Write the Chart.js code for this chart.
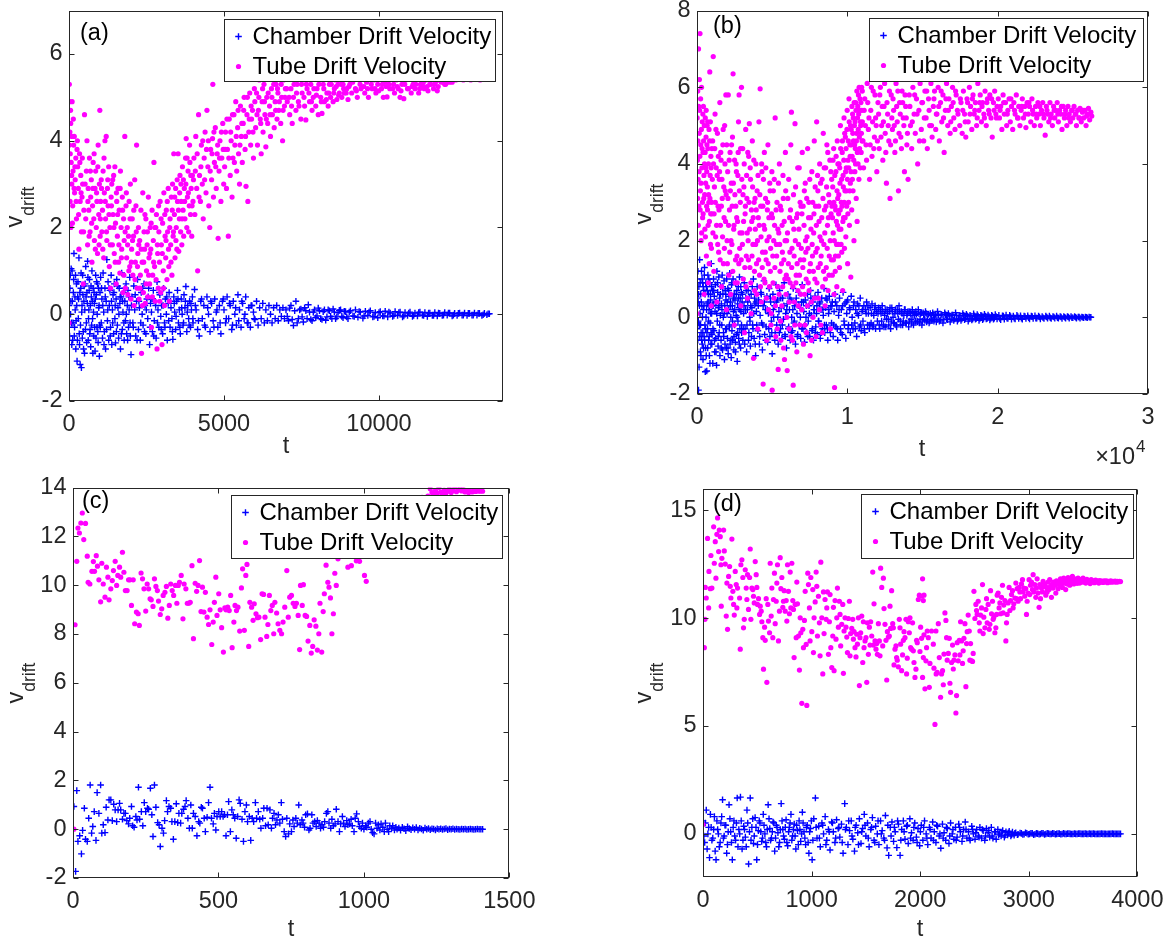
<!DOCTYPE html>
<html><head><meta charset="utf-8">
<script src="https://cdn.jsdelivr.net/npm/chart.js@4.4.1/dist/chart.umd.min.js"></script>
<style>
html,body{margin:0;padding:0;background:#fff;width:1171px;height:945px;overflow:hidden;position:relative}
canvas{position:absolute}
</style></head><body>
<script>
// ---------------- DATA ----------------
const legendLabels = ['Chamber Drift Velocity', 'Tube Drift Velocity'];
const panelTags = ['(a)', '(b)', '(c)', '(d)'];
const axisTitleX = 't';
const axisTitleY = 'v';
const axisTitleYSub = 'drift';
const xExponentB = '\u00D710';
const xExponentBPow = '4';

const xTicksA = [0, 5000, 10000];
const yTicksA = [-2, 0, 2, 4, 6];
const xTicksB = [0, 10000, 20000, 30000];
const yTicksB = [-2, 0, 2, 4, 6, 8];
const xTicksC = [0, 500, 1000, 1500];
const yTicksC = [-2, 0, 2, 4, 6, 8, 10, 12, 14];
const xTicksD = [0, 1000, 2000, 3000, 4000];
const yTicksD = [0, 5, 10, 15];

// (a) chamber drift velocity [t, v]
const aChamber = [
[0,0.2],[20,-0.5],[40,0.9],[60,0.3],[80,-0.2],[100,1.0],[120,-0.6],[140,0.5],[160,1.4],[180,-0.3],[200,0.1],[220,-0.8],[240,0.7],[260,-1.08],[280,0.4],[300,-0.1],[320,1.3],[340,-0.7],[360,-1.16],[380,0.6],[400,-1.23],[420,0.2],[440,0.9],[460,-0.4],[480,0.3],[500,-0.9],[520,0.7],[540,1.1],[560,-0.2],[580,0.5],[600,1.22],[620,-0.6],[640,0.1],[660,0.8],[680,-0.35],[700,-0.75],[720,0.4],[740,1.0],[760,-0.1],[780,0.6],[800,-0.5],[820,0.25],[840,-0.85],[860,0.9],[880,0.45],[900,-0.3],[920,0.7],[940,-0.65],[960,0.15],[980,-0.97],
[1000,0.5],[1020,0.85],[1040,-0.2],[1060,0.35],[1080,-0.55],[1100,0.95],[1120,0.05],[1140,-0.4],[1160,0.6],[1180,-0.8],[1200,0.3],[1220,1.26],[1240,-0.15],[1260,0.75],[1280,-0.6],[1300,0.2],[1320,0.55],[1340,-0.3],[1360,0.9],[1380,-0.7],[1400,0.1],[1420,0.45],[1440,-0.45],[1460,0.7],[1480,-0.1],[1500,-0.66],[1520,0.35],[1540,0.8],[1560,-0.25],[1580,0.15],[1600,-0.55],[1620,0.6],[1640,0.25],[1660,-0.8],[1680,0.4],[1700,0.95],[1720,-0.35],[1740,0.05],[1760,0.5],[1780,-0.6],[1800,0.3],[1820,-0.15],[1840,0.7],[1860,-0.45],[1880,0.2],[1900,0.55],[1920,-0.3],[1940,0.1],[1960,0.85],[1980,-0.5],
[2000,-0.93],[2030,0.4],[2060,-0.2],[2090,0.65],[2120,0.1],[2150,-0.5],[2180,0.3],[2210,0.8],[2240,-0.35],[2270,0.15],[2300,-0.6],[2330,0.5],[2360,0.0],[2390,-0.25],[2420,0.7],[2450,0.2],[2480,-0.45],[2510,0.35],[2540,-0.1],[2570,0.6],[2600,-0.7],[2630,0.25],[2660,0.05],[2690,-0.4],[2720,0.55],[2750,-0.15],[2780,0.3],[2810,-0.55],[2840,0.75],[2870,0.1],[2900,-0.3],[2930,0.45],[2960,-0.05],[2990,0.2],
[3020,-0.45],[3050,0.6],[3080,-0.2],[3110,0.35],[3140,0.0],[3170,-0.6],[3200,0.25],[3230,0.5],[3260,-0.3],[3290,0.15],[3320,-0.1],[3350,-0.58],[3380,0.4],[3410,0.05],[3440,-0.35],[3470,0.3],[3500,0.55],[3530,-0.2],[3560,0.1],[3590,-0.45],[3620,0.35],[3650,0.0],[3680,-0.25],[3710,0.45],[3740,0.15],[3770,0.64],[3800,-0.4],[3830,0.2],[3860,-0.1],[3890,0.3],[3920,-0.3],[3950,0.1],[3980,0.4],
[4000,-0.2],[4050,0.57],[4100,0.1],[4150,-0.35],[4200,-0.5],[4250,0.3],[4300,-0.1],[4350,0.2],[4400,-0.3],[4450,0.4],[4500,0.0],[4550,-0.4],[4600,0.25],[4650,-0.15],[4700,0.35],[4750,0.05],[4800,-0.3],[4850,0.2],[4900,-0.45],[4950,0.3],[5000,0.1],[5050,-0.2],[5100,0.4],[5150,-0.1],[5200,0.2],[5250,-0.35],[5300,0.3],[5350,0.0],[5400,-0.25],[5450,0.45],[5500,0.1],[5550,-0.3],[5600,0.25],[5650,-0.1],[5700,0.4],[5750,-0.2],[5800,0.15],[5850,-0.3],[5900,0.2],[5950,0.05],
[6000,-0.12],[6050,0.3],[6100,-0.25],[6150,0.15],[6200,-0.1],[6250,0.25],[6300,-0.2],[6350,0.1],[6400,-0.15],[6450,0.2],[6500,0.0],[6550,-0.2],[6600,0.15],[6650,-0.1],[6700,0.2],[6750,-0.15],[6800,0.1],[6850,-0.05],[6900,0.15],[6950,-0.1],
[7000,0.1],[7080,-0.15],[7160,0.2],[7240,-0.26],[7320,0.3],[7400,-0.1],[7480,0.12],[7560,-0.18],[7640,0.08],[7720,0.22],[7800,-0.12],[7880,0.05],[7960,-0.08],[8040,0.14],[8120,-0.1],[8200,0.06],[8280,-0.14],[8360,0.1],[8440,-0.05],[8520,0.12],[8600,-0.1],[8680,0.04],[8760,0.1],[8840,-0.08],[8920,0.06],[9000,-0.1],[9080,0.08],[9160,-0.04],[9240,0.1],[9320,-0.07],[9400,0.05],[9480,-0.09],[9560,0.07],[9640,-0.03],[9720,0.08],[9800,-0.06],[9880,0.04],[9960,-0.08],
[10040,0.06],[10120,-0.04],[10200,0.07],[10280,-0.06],[10360,0.03],[10440,-0.05],[10520,0.06],[10600,-0.03],[10680,0.05],[10760,-0.06],[10840,0.04],[10920,-0.03],[11000,0.05],[11080,-0.05],[11160,0.03],[11240,-0.04],[11320,0.05],[11400,-0.02],[11480,0.04],[11560,-0.05],[11640,0.03],[11720,-0.03],[11800,0.04],[11880,-0.04],[11960,0.02],[12040,-0.03],[12120,0.04],[12200,-0.02],[12280,0.03],[12360,-0.04],[12440,0.02],[12520,-0.03],[12600,0.03],[12680,-0.02],[12760,0.03],[12840,-0.03],[12920,0.02],[13000,-0.02],[13080,0.03],[13160,-0.02],[13240,0.02],[13320,-0.03],[13400,0.02],[13480,-0.01],[13560,0.01],
[10,-0.3],[30,0.6],[50,0.0],[70,1.05],[90,-0.7],[110,0.3],[130,-0.2],[150,0.8],[170,-0.5],[190,0.4],[210,0.9],[230,-0.15],[250,0.2],[270,-0.6],[290,0.75],[310,0.35],[330,-0.45],[350,0.5],[370,-0.25],[390,0.95],[410,0.05],[430,-0.55],[450,0.45],[470,-0.8],[490,0.65],[510,0.1],[530,-0.35],[550,0.4],[570,-0.65],[590,0.25],[610,0.85],[630,-0.1],[650,0.55],[670,-0.45],[690,0.2],[710,0.65],[730,-0.25],[750,0.3],[770,-0.9],[790,0.05],[810,0.5],[830,-0.3],[850,0.35],[870,-0.55],[890,0.75],[910,0.0],[930,-0.4],[950,0.6],[970,0.2],[990,-0.25],
[1010,-0.3],[1050,0.6],[1090,0.2],[1130,-0.7],[1170,0.4],[1210,-0.35],[1250,0.1],[1290,0.6],[1330,-0.5],[1370,0.3],[1410,-0.2],[1450,0.5],[1490,0.2],[1530,-0.4],[1570,0.65],[1610,0.0],[1650,0.4],[1690,-0.45],[1730,0.3],[1770,-0.2],[1810,0.6],[1850,0.0],[1890,-0.6],[1930,0.4],[1970,-0.2],
[2015,0.2],[2075,-0.3],[2135,0.45],[2195,-0.6],[2255,0.3],[2315,-0.2],[2375,0.6],[2435,-0.4],[2495,0.1],[2555,0.4],[2615,-0.3],[2675,0.35],[2735,-0.5],[2795,0.2],[2855,-0.2],[2915,0.5],[2975,-0.35],[3035,0.2],[3095,-0.3],[3155,0.4],[3215,-0.15],[3275,0.3],[3335,-0.4],[3395,0.25],[3455,-0.05],[3515,0.35],[3575,-0.3],[3635,0.15],[3695,-0.2],[3755,0.3],[3815,0.05],[3875,-0.25],[3935,0.25],[3995,-0.1],
[4075,0.2],[4175,-0.15],[4275,0.35],[4375,-0.25],[4475,0.15],[4575,0.3],[4675,-0.3],[4775,0.1],[4875,-0.2],[4975,0.35],[5075,-0.1],[5175,0.25],[5275,-0.25],[5375,0.15],[5475,-0.15],[5575,0.3],[5675,0.0],[5775,-0.2],[5875,0.2],[5975,-0.1],
[7040,-0.05],[7120,0.14],[7200,-0.12],[7280,0.08],[7360,-0.2],[7440,0.1],[7520,-0.06],[7600,0.15],[7680,-0.1],[7760,0.05],[7840,-0.15],[7920,0.1],[8000,-0.04],[8080,0.08],[8160,-0.12],[8240,0.1],[8320,-0.06],[8400,0.08],[8480,-0.1],[8560,0.05],[8640,-0.06],[8720,0.09],[8800,-0.05],[8880,0.07],[8960,-0.06],[9040,0.05],[9200,-0.05],[9360,0.06],[9520,-0.04],[9680,0.05],[9840,-0.05],[10000,0.04],[10160,-0.04],[10320,0.05],[10480,-0.03],[10640,0.04],[10800,-0.04],[10960,0.03],[11120,-0.03],[11280,0.04],[11440,-0.03],[11600,0.03],[11760,-0.03],[11920,0.03],[12080,-0.02],[12240,0.03],[12400,-0.02],[12560,0.02],[12720,-0.02],[12880,0.02],[13040,-0.02],[13200,0.02],[13360,-0.01],[13520,0.01]
];

// (a) tube drift velocity [t, v]
const aTube = [
[0,-0.2],[10,5.3],[20,4.9],[30,4.2],[40,3.7],[50,4.7],[60,2.0],[70,3.5],[80,4.1],[90,3.0],[100,4.9],[120,2.5],[130,3.3],[150,3.9],[170,4.1],[180,2.8],[200,3.1],[220,3.6],[240,2.2],[260,3.8],[280,3.4],[300,2.9],[320,1.5],[340,3.7],[360,2.6],[380,3.2],[400,1.9],[420,2.7],[440,3.0],[460,0.7],[480,2.4],[500,4.6],
[540,2.2],[560,3.3],[580,4.0],[600,1.6],[620,2.9],[640,2.4],[660,3.6],[680,1.9],[700,2.7],[720,3.1],[740,1.2],[760,2.5],[780,3.5],[800,2.2],[820,1.7],[840,2.9],[860,3.3],[880,2.0],[900,2.6],[920,1.4],[940,3.9],[960,2.3],[980,3.0],[995,4.7],[1005,1.8],
[1020,2.6],[1040,3.1],[1060,1.9],[1080,2.4],[1100,3.3],[1120,1.3],[1140,2.8],[1160,4.0],[1180,2.2],[1200,4.1],[1220,1.7],[1240,2.9],[1260,2.5],[1280,3.4],[1300,1.1],[1320,2.0],[1340,0.6],[1360,2.7],[1380,3.0],[1400,1.6],[1420,2.3],[1440,3.2],[1460,1.4],[1480,3.4],[1500,2.1],[1520,0.7],[1540,2.6],[1560,1.8],[1580,2.9],[1600,1.2],[1620,2.4],[1640,0.95],[1660,3.3],[1680,2.0],[1700,1.5],[1720,2.7],[1740,0.5],[1760,2.2],[1780,1.7],[1800,4.1],[1820,0.6],[1840,2.5],[1860,1.3],[1880,2.0],[1900,0.45],[1920,1.8],[1940,2.6],[1960,1.1],[1980,3.0],[2000,0.35],
[2020,1.5],[2040,2.2],[2060,0.9],[2080,1.8],[2100,0.2],[2120,3.1],[2140,1.2],[2160,2.5],[2180,3.9],[2200,0.6],[2220,1.4],[2240,2.0],[2260,0.35],[2280,1.7],[2300,0.9],[2320,2.4],[2340,-0.9],[2360,1.2],[2380,2.8],[2400,0.5],[2420,1.9],[2440,1.5],[2460,0.25],[2480,2.2],[2500,1.0],[2520,1.6],[2540,0.4],[2560,2.7],[2580,1.3],[2600,0.7],[2620,2.0],[2640,1.5],[2660,-0.3],[2680,2.4],[2700,0.9],[2720,1.7],[2740,3.5],[2760,1.1],[2780,0.3],[2800,2.0],[2820,2.3],[2840,-0.8],[2860,1.4],[2880,0.6],[2900,1.9],[2920,1.2],[2940,2.6],[2960,0.5],[2980,1.6],[3000,-0.7],[3020,2.1],[3040,1.0],[3060,2.8],[3080,0.2],[3100,1.8],
[3120,1.3],[3140,2.4],[3160,0.8],[3180,1.9],[3200,2.9],[3220,1.1],[3240,0.3],[3260,2.2],[3280,1.6],[3300,2.7],[3320,0.9],[3340,3.0],[3360,1.8],[3380,3.7],[3400,2.3],[3420,1.3],[3440,2.9],[3460,2.0],[3480,1.5],[3500,2.6],[3520,3.7],[3540,1.45],[3560,2.2],[3580,3.2],[3600,1.9],[3620,2.6],[3640,1.6],[3660,3.4],[3680,2.4],[3700,1.8],[3720,2.9],[3740,2.2],[3760,3.6],[3780,4.05],[3800,2.0],[3820,2.7],[3840,3.3],[3860,1.9],[3880,2.5],[3900,3.5],[3920,2.3],[3940,2.9],[3960,1.8],[3980,3.2],[4000,2.6],
[4030,3.6],[4060,2.3],[4090,4.1],[4120,2.9],[4150,1.0],[4180,4.6],[4210,3.2],[4240,2.6],[4270,3.9],[4300,3.0],[4330,2.2],[4360,3.6],[4390,4.2],[4420,2.8],[4450,4.7],[4480,3.4],[4510,2.5],[4540,2.0],[4570,3.8],[4600,3.1],[4630,4.05],[4640,5.3],[4660,2.7],[4690,3.5],[4720,4.3],[4750,2.9],[4780,3.7],[4810,1.75],[4840,3.3],[4870,4.0],[4900,2.6],[4930,3.6],[4960,4.4],[4990,3.0],
[5020,3.4],[5050,4.2],[5080,2.9],[5110,3.8],[5140,1.8],[5170,4.5],[5200,3.2],[5230,4.0],[5260,2.7],[5290,3.6],[5320,4.6],[5350,3.9],[5380,4.9],[5410,3.3],[5440,4.3],[5470,3.7],[5500,3.0],[5530,4.8],[5560,4.1],[5590,3.5],[5620,4.4],[5650,5.0],[5680,3.8],[5710,2.95],[5740,4.6],[5770,2.6],[5800,4.2],[5830,5.1],[5860,3.9],[5890,4.5],[5920,4.7],[5950,3.6],[5980,5.2],
[6020,4.3],[6050,5.1],[6080,3.9],[6110,4.7],[6140,5.4],[6170,4.5],[6200,3.7],[6230,4.9],[6260,4.2],[6290,5.3],[6320,4.6],[6350,3.86],[6380,5.0],[6410,4.4],[6440,5.6],[6470,4.8],[6500,4.1],[6530,5.2],[6560,4.6],[6590,5.5],[6620,4.3],[6650,4.9],[6680,5.3],[6710,4.5],[6740,5.1],[6770,4.7],[6800,5.7],[6830,4.4],[6860,5.0],[6890,4.0],[6920,5.4],[6950,4.8],[6980,5.2],
[7040,4.9],[7080,5.5],[7120,4.6],[7160,5.2],[7200,4.4],[7240,5.0],[7280,5.8],[7320,4.7],[7360,5.3],[7400,4.9],[7440,5.6],[7480,4.5],[7520,5.1],[7560,5.4],[7600,4.8],[7640,4.48],[7680,5.2],[7720,5.7],[7760,4.9],[7800,5.3],[7840,4.7],[7880,5.0],[7920,5.5],[7960,4.8],[8000,5.2],[8040,4.6],[8080,5.4],[8120,5.0],[8160,4.63],[8200,5.3],[8240,4.9],[8280,5.6],[8320,5.1],[8360,4.8],[8400,5.3],[8440,5.0],[8480,5.5],[8520,4.9],[8560,5.2],[8600,5.4],[8640,4.95],[8680,5.3],[8720,5.1],[8760,5.6],[8800,5.0],[8840,5.3],[8880,5.1],[8920,5.5],[8960,5.2],[9000,4.95],
[9060,5.3],[9120,5.1],[9180,5.5],[9240,5.2],[9300,5.0],[9360,5.4],[9420,5.2],[9480,5.6],[9540,5.1],[9600,5.35],[9660,5.0],[9720,5.5],[9780,5.2],[9840,5.4],[9900,5.1],[9960,5.3],[10020,5.6],[10080,5.2],[10140,5.0],[10200,5.35],[10260,5.01],[10320,5.3],[10380,5.5],[10440,5.2],[10500,5.1],[10560,5.4],[10620,5.2],[10680,5.0],[10740,5.3],[10800,4.97],[10860,5.4],[10920,5.2],[10980,5.5],[11040,5.1],[11100,5.3],[11160,5.2],[11220,5.45],[11280,5.1],[11340,5.3],[11400,5.28],[11460,5.2],[11520,5.4],[11580,5.15],[11640,5.3],[11700,5.5],[11760,5.2],[11820,5.35],[11880,5.15],[11940,5.4],[12000,5.36],[12060,5.5],[12120,5.3],[12180,5.6],[12240,5.4],[12300,5.5],[12360,5.35],[12420,5.6],[12480,5.4],[12540,5.5],[12600,5.45],[12660,5.6],[12720,5.4],[12780,5.5],[12840,5.45],[12900,5.55],[12960,5.4],[13020,5.5],[13080,5.45],[13140,5.6],[13200,5.5],[13260,5.4],[13320,5.5],[13380,5.45],[13440,5.5],[13500,5.45],
[15,3.9],[35,2.6],[55,4.4],[85,3.2],[110,2.1],[140,4.5],[165,2.9],[190,3.4],[230,2.6],[270,4.0],[310,2.3],[350,3.5],[390,2.8],[430,3.6],[470,1.9],[520,3.0],[610,2.6],[650,1.8],[690,3.3],[730,2.1],[770,2.9],[810,3.7],[850,1.5],[890,2.8],[930,3.4],[970,1.6],
[1010,2.2],[1050,2.9],[1090,1.5],[1130,3.6],[1170,2.6],[1210,1.9],[1250,3.1],[1290,2.3],[1330,1.6],[1370,2.5],[1410,3.1],[1450,2.0],[1490,1.2],[1530,2.8],[1570,2.3],[1610,1.6],[1650,2.9],[1690,1.3],[1730,2.4],[1770,0.9],[1810,1.9],[1850,2.8],[1890,1.6],[1930,1.0],[1970,2.2],
[2010,1.2],[2050,1.7],[2090,2.4],[2130,0.8],[2170,1.9],[2210,1.1],[2250,1.6],[2290,0.6],[2330,1.5],[2370,0.2],[2410,1.2],[2450,2.3],[2490,0.7],[2530,1.9],[2570,0.9],[2610,1.4],[2650,2.1],[2690,0.4],[2730,1.2],[2770,2.0],[2810,0.8],[2850,1.6],[2890,2.5],[2930,0.3],[2970,2.2],
[3010,1.4],[3050,0.6],[3090,2.3],[3130,1.7],[3170,2.6],[3210,1.5],[3250,2.0],[3290,1.2],[3330,2.4],[3370,1.9],[3410,2.7],[3450,1.7],[3490,3.1],[3530,2.4],[3570,2.8],[3610,3.0],[3650,2.2],[3690,3.1],[3730,2.6],[3770,3.0],[3810,3.6],[3850,2.8],[3890,3.9],[3930,3.2],[3970,2.5],
[4015,3.1],[4075,3.3],[4135,3.7],[4195,2.7],[4255,3.4],[4315,4.0],[4375,3.1],[4435,3.8],[4495,4.0],[4555,3.3],[4615,3.7],[4675,4.2],[4735,3.4],[4795,3.9],[4855,3.6],[4915,4.2],[4975,3.8],[5035,3.8],[5095,4.5],[5155,3.6],[5215,4.2],[5275,4.6],[5335,3.5],[5395,4.1],[5455,4.7],[5515,3.9],[5575,4.4],[5635,4.7],[5695,4.1],[5755,5.0],[5815,4.5],[5875,4.8],[5935,4.2],[5995,4.9],[6065,4.6],[6125,5.0],[6185,4.4],[6245,5.2],[6305,4.9],[6365,4.5],[6425,5.1],[6485,4.6],[6545,5.0],[6605,5.3],[6665,4.7],[6725,5.2],[6785,4.9],[6845,5.3],[6905,4.7],[6965,5.0],
[7020,5.2],[7100,5.0],[7180,4.8],[7260,5.3],[7340,5.1],[7420,4.8],[7500,5.3],[7580,5.0],[7660,5.3],[7740,5.1],[7820,4.9],[7900,5.2],[7980,5.05],[8060,5.3],[8140,4.9],[8220,5.2],[8300,4.95],[8380,5.1],[8460,5.3],[8540,5.1],[8620,5.25],[8700,5.05],[8780,5.3],[8860,5.2],[8940,5.1],[9030,5.25],[9150,5.35],[9270,5.15],[9390,5.3],[9510,5.25],[9630,5.2],[9750,5.3],[9870,5.2],[9990,5.15],[10110,5.3],[10230,5.25],[10350,5.2],[10470,5.3],[10590,5.25],[10710,5.15],[10830,5.3],[10950,5.2],[11070,5.25],[11190,5.3],[11310,5.2],[11430,5.35],[11550,5.25],[11670,5.3],[11790,5.3],[11910,5.25],[12030,5.35],[12150,5.3],[12270,5.35]
];

// (b) chamber drift velocity [t, v]
const bChamber = [
[0,-0.3],[25,1.0],[50,-0.6],[75,0.4],[100,-1.9],[125,0.8],[150,-0.2],[175,1.5],[200,0.1],[225,-0.9],[250,0.6],[275,-0.4],[300,1.2],[325,0.3],[350,-0.7],[375,0.9],[400,-1.1],[425,0.2],[450,0.7],[475,-0.5],[500,1.3],[525,-0.2],[550,-1.42],[575,-0.8],[600,0.0],[625,0.8],[650,-1.4],[675,0.35],[700,-0.3],[725,1.1],[750,0.6],[775,-0.6],[800,0.2],[825,-1.0],[850,0.9],[875,-0.15],[900,0.45],[925,-0.7],[950,1.4],[975,0.1],
[1000,-0.45],[1025,0.7],[1050,-1.2],[1075,0.3],[1100,1.0],[1125,-0.35],[1150,0.55],[1175,-0.9],[1200,0.15],[1225,0.85],[1250,-0.55],[1275,0.4],[1300,-1.25],[1325,1.2],[1350,-0.1],[1375,0.65],[1400,-0.75],[1425,0.25],[1450,1.05],[1475,-0.4],[1500,0.5],[1525,-1.0],[1550,0.05],[1575,0.8],[1600,-0.6],[1625,0.35],[1650,-0.2],[1675,1.1],[1700,-0.85],[1725,0.6],[1750,0.0],[1775,-0.5],[1800,0.95],[1825,-1.1],[1850,0.3],[1875,0.7],[1900,-0.3],[1925,0.45],[1950,-0.8],[1975,1.0],
[2000,0.1],[2025,-0.55],[2050,0.75],[2075,-0.95],[2100,0.2],[2125,0.55],[2150,-0.25],[2175,1.15],[2200,-0.7],[2225,0.4],[2250,0.0],[2275,-1.05],[2300,0.85],[2325,-0.35],[2350,0.3],[2375,-0.6],[2400,1.0],[2425,0.15],[2450,-0.85],[2475,0.6],[2500,-0.2],[2525,0.45],[2550,-0.65],[2575,0.9],[2600,0.05],[2625,-0.45],[2650,0.7],[2675,-1.15],[2700,0.35],[2725,-0.1],[2750,0.8],[2775,-0.55],[2800,0.25],[2825,1.05],[2850,-0.3],[2875,0.5],[2900,-0.8],[2925,0.15],[2950,0.65],[2975,-0.4],
[3000,0.4],[3050,-0.6],[3100,0.1],[3150,0.9],[3200,-0.3],[3250,0.5],[3300,-0.9],[3350,0.2],[3400,0.7],[3450,-0.4],[3500,0.0],[3550,-0.75],[3600,0.6],[3650,0.25],[3700,-0.2],[3750,1.0],[3800,-0.55],[3850,0.35],[3900,-1.0],[3950,0.15],[4000,0.8],[4050,-0.35],[4100,0.45],[4150,-0.7],[4200,0.05],[4250,0.65],[4300,-0.15],[4350,-0.85],[4400,0.3],[4450,0.95],[4500,-0.45],[4550,0.2],[4600,-0.25],[4650,0.55],[4700,-0.65],[4750,0.1],[4800,0.75],[4850,-0.5],[4900,0.4],[4950,-0.1],
[5000,-0.95],[5050,0.6],[5100,0.0],[5150,0.3],[5200,-0.4],[5250,0.85],[5300,-0.2],[5350,0.45],[5400,-0.7],[5450,0.15],[5500,0.7],[5550,-0.3],[5600,0.25],[5650,-0.55],[5700,0.5],[5750,-0.05],[5800,0.9],[5850,-0.45],[5900,0.1],[5950,-0.8],[6000,0.35],[6050,0.6],[6100,-0.25],[6150,0.2],[6200,-0.6],[6250,0.45],[6300,0.0],[6350,-0.35],[6400,0.75],[6450,-0.15],[6500,0.3],[6550,-0.7],[6600,0.5],[6650,0.1],[6700,-0.45],[6750,0.65],[6800,-0.2],[6850,0.25],[6900,-0.55],[6950,0.4],
[7000,0.85],[7050,-0.3],[7100,0.15],[7150,-0.65],[7200,0.45],[7250,0.0],[7300,-0.4],[7350,0.6],[7400,-0.1],[7450,0.3],[7500,-0.5],[7550,0.7],[7600,0.05],[7650,-0.35],[7700,0.4],[7750,-0.6],[7800,0.2],[7850,0.55],[7900,-0.25],[7950,0.1],[8000,-0.45],[8050,0.65],[8100,-0.1],[8150,0.35],[8200,-0.55],[8250,0.2],[8300,0.5],[8350,-0.3],[8400,0.05],[8450,0.75],[8500,-0.4],[8550,0.25],[8600,-0.2],[8650,0.45],[8700,-0.6],[8750,0.1],[8800,0.55],[8850,-0.3],[8900,0.3],[8950,-0.15],
[9000,0.4],[9060,-0.5],[9120,0.15],[9180,0.6],[9240,-0.25],[9300,0.3],[9360,-0.6],[9420,0.05],[9480,0.5],[9540,-0.3],[9600,0.2],[9660,-0.45],[9720,0.65],[9780,-0.1],[9840,0.35],[9900,-0.55],[9960,0.1],[10020,0.45],[10080,-0.2],[10140,0.25],[10200,-0.4],[10260,0.55],[10320,0.0],[10380,-0.3],[10440,0.4],[10500,-0.15],[10560,0.2],[10620,-0.5],[10680,0.35],[10740,0.05],[10800,-0.25],[10860,0.5],[10920,-0.35],[10980,0.15],[11040,-0.1],[11100,0.3],[11160,-0.4],[11220,0.2],[11280,0.4],[11340,-0.2],[11400,0.1],[11460,-0.3],[11520,0.25],[11580,-0.15],[11640,0.35],[11700,-0.25],[11760,0.05],[11820,0.2],[11880,-0.3],[11940,0.15],
[12000,-0.1],[12080,0.25],[12160,-0.3],[12240,0.1],[12320,0.3],[12400,-0.2],[12480,0.05],[12560,-0.25],[12640,0.2],[12720,-0.05],[12800,0.15],[12880,-0.3],[12960,0.25],[13040,0.0],[13120,-0.15],[13200,0.2],[13280,-0.25],[13360,0.1],[13440,0.3],[13520,-0.1],[13600,0.15],[13680,-0.2],[13760,0.05],[13840,0.2],[13920,-0.15],[14000,0.1],[14080,-0.25],[14160,0.15],[14240,-0.05],[14320,0.2],[14400,-0.2],[14480,0.05],[14560,0.15],[14640,-0.1],[14720,0.2],[14800,-0.15],[14880,0.1],[14960,-0.2],[15040,0.12],[15120,-0.05],[15200,0.15],[15280,-0.12],[15360,0.08],[15440,-0.15],[15520,0.1],[15600,-0.05],[15680,0.12],[15760,-0.1],[15840,0.05],[15920,-0.12],
[16000,0.15],[16120,-0.1],[16240,0.08],[16360,-0.15],[16480,0.12],[16600,-0.05],[16720,0.1],[16840,-0.12],[16960,0.06],[17080,-0.08],[17200,0.12],[17320,-0.1],[17440,0.05],[17560,-0.08],[17680,0.1],[17800,-0.06],[17920,0.08],[18040,-0.1],[18160,0.05],[18280,-0.07],[18400,0.09],[18520,-0.05],[18640,0.07],[18760,-0.08],[18880,0.05],[19000,-0.06],[19120,0.08],[19240,-0.04],[19360,0.06],[19480,-0.07],[19600,0.05],[19720,-0.05],[19840,0.07],[19960,-0.04],
[20080,0.05],[20200,-0.06],[20320,0.04],[20440,-0.05],[20560,0.06],[20680,-0.03],[20800,0.05],[20920,-0.05],[21040,0.03],[21160,-0.04],[21280,0.05],[21400,-0.03],[21520,0.04],[21640,-0.05],[21760,0.03],[21880,-0.03],[22000,0.04],[22120,-0.04],[22240,0.03],[22360,-0.03],[22480,0.04],[22600,-0.02],[22720,0.03],[22840,-0.04],[22960,0.02],[23080,-0.03],[23200,0.03],[23320,-0.02],[23440,0.03],[23560,-0.03],[23680,0.02],[23800,-0.02],[23920,0.03],[24040,-0.02],[24160,0.02],[24280,-0.03],[24400,0.02],[24520,-0.02],[24640,0.02],[24760,-0.02],[24880,0.02],[25000,-0.01],[25120,0.02],[25240,-0.02],[25360,0.01],[25480,-0.02],[25600,0.01],[25720,-0.01],[25840,0.01],[25960,-0.01],[26080,0.01],[26200,0.0],
[12,0.5],[37,-0.9],[62,1.2],[87,-0.1],[112,0.6],[137,-1.3],[162,0.3],[187,-0.5],[212,0.9],[237,-0.2],[262,-1.0],[287,0.4],[312,-0.6],[337,1.0],[362,0.0],[387,-0.4],[412,0.8],[437,-0.8],[462,0.3],[487,1.1],[512,-0.6],[537,0.6],[562,-0.3],[587,0.9],[612,-1.0],[637,0.2],[662,-0.4],[687,0.7],[712,-0.8],[737,0.4],[762,-0.1],[787,1.0],[812,-0.5],[837,0.3],[862,-1.2],[887,0.6],[912,0.1],[937,-0.4],[962,0.8],[987,-0.7],
[1012,0.3],[1062,-0.3],[1112,0.7],[1162,-0.6],[1212,0.4],[1262,-0.9],[1312,0.1],[1362,0.9],[1412,-0.5],[1462,0.3],[1512,-0.2],[1562,0.6],[1612,-0.8],[1662,0.2],[1712,0.8],[1762,-0.4],[1812,0.1],[1862,-0.7],[1912,0.6],[1962,-0.3],[2012,0.4],[2062,-0.8],[2112,0.7],[2162,-0.2],[2212,0.3],[2262,-0.6],[2312,0.9],[2362,-0.1],[2412,0.5],[2462,-0.5],[2512,0.2],[2562,-0.9],[2612,0.6],[2662,0.0],[2712,-0.4],[2762,0.5],[2812,-0.7],[2862,0.2],[2912,0.8],[2962,-0.2],
[3025,0.6],[3075,-0.3],[3125,0.3],[3175,-0.7],[3225,0.2],[3275,0.7],[3325,-0.2],[3375,0.4],[3425,-0.6],[3475,0.5],[3525,-0.1],[3575,0.3],[3625,-0.5],[3675,0.8],[3725,-0.3],[3775,0.1],[3825,0.5],[3875,-0.7],[3925,0.4],[3975,-0.2],[4075,0.3],[4175,-0.5],[4275,0.6],[4375,-0.2],[4475,0.4],[4575,-0.6],[4675,0.2],[4775,-0.3],[4875,0.5],[4975,-0.4],[5075,0.2],[5175,-0.6],[5275,0.4],[5375,0.0],[5475,-0.4],[5575,0.5],[5675,-0.2],[5775,0.3],[5875,-0.5],[5975,0.2],
[6075,-0.3],[6175,0.5],[6275,-0.4],[6375,0.2],[6475,-0.1],[6575,0.4],[6675,-0.5],[6775,0.3],[6875,0.0],[6975,-0.3],[7075,0.4],[7175,-0.2],[7275,0.3],[7375,-0.5],[7475,0.1],[7575,0.5],[7675,-0.3],[7775,0.2],[7875,-0.4],[7975,0.3],[8075,-0.1],[8175,0.4],[8275,-0.4],[8375,0.2],[8475,-0.2],[8575,0.5],[8675,-0.3],[8775,0.2],[8875,-0.4],[8975,0.3],[9090,-0.2],[9210,0.4],[9330,-0.3],[9450,0.2],[9570,-0.4],[9690,0.3],[9810,-0.2],[9930,0.4],[10050,-0.3],[10170,0.2],[10290,-0.2],[10410,0.3],[10530,-0.3],[10650,0.1],[10770,0.3],[10890,-0.2],[11010,0.2],[11130,-0.3],[11250,0.1],[11370,0.3],[11490,-0.2],[11610,0.1],[11730,-0.2],[11850,0.3],
[12040,0.1],[12120,-0.2],[12200,0.2],[12280,-0.1],[12360,0.15],[12440,-0.25],[12520,0.2],[12600,-0.05],[12680,0.1],[12760,-0.2],[12840,0.25],[12920,-0.1],[13000,0.15],[13080,-0.15],[13160,0.1],[13240,-0.2],[13320,0.2],[13400,-0.05],[13480,0.15],[13560,-0.2],[13640,0.1],[13720,-0.1],[13800,0.2],[13880,-0.15],[13960,0.05],[14040,0.15],[14120,-0.1],[14200,0.1],[14280,-0.15],[14360,0.05],[14440,0.12],[14520,-0.1],[14600,0.08],[14680,-0.12],[14760,0.1],[14840,-0.05],[14920,0.12],[15000,-0.1],[15080,0.06],[15160,-0.08],[15240,0.1],[15320,-0.06],[15400,0.08],[15480,-0.1],[15560,0.05],[15640,-0.08],[15720,0.07],[15800,-0.05],[15880,0.08],[15960,-0.06],
[16060,0.05],[16180,-0.07],[16300,0.06],[16420,-0.05],[16540,0.07],[16660,-0.06],[16780,0.04],[16900,-0.05],[17020,0.06],[17140,-0.04],[17260,0.05],[17380,-0.05],[17500,0.04],[17620,-0.04],[17740,0.05],[17860,-0.03],[17980,0.04],[18100,-0.04],[18220,0.03],[18340,-0.04],[18460,0.04],[18580,-0.03],[18700,0.03],[18820,-0.03],[18940,0.04],[19060,-0.03],[19180,0.03],[19300,-0.03],[19420,0.02],[19540,-0.03],[19660,0.03],[19780,-0.02],[19900,0.02],[20140,-0.03],[20380,0.03],[20620,-0.02],[20860,0.02],[21100,-0.02],[21340,0.02],[21580,-0.02],[21820,0.02],[22060,-0.01],[22300,0.02],[22540,-0.02],[22780,0.01],[23020,-0.01],[23260,0.01],[23500,-0.01],[23740,0.01],[23980,-0.01],[24220,0.01],[24460,0.0],[24700,0.01],[24940,-0.01],[25180,0.0],[25420,0.01],[25660,0.0],[25900,0.0],[26140,0.0]
];

// (b) tube drift velocity [t, v]
const bTube = [
[0,0.1],[25,4.1],[50,5.9],[75,3.6],[100,7.0],[125,2.9],[150,4.8],[175,5.4],[200,7.4],[225,3.3],[250,4.5],[275,2.0],[300,6.0],[325,3.9],[350,5.1],[375,2.6],[400,4.3],[425,5.5],[450,3.1],[475,0.6],[500,4.0],[525,2.3],[550,5.2],[575,3.5],[600,4.7],[625,1.6],[650,3.8],[675,5.0],[700,2.8],[725,4.4],[750,0.9],[775,3.2],[800,4.9],[825,2.5],[850,6.4],[875,3.7],[900,1.9],[925,4.2],[950,0.3],[975,3.0],
[1000,2.7],[1040,4.6],[1080,6.8],[1120,1.2],[1160,3.4],[1200,5.3],[1240,2.1],[1280,3.9],[1320,0.4],[1360,4.8],[1400,2.9],[1440,1.7],[1480,3.6],[1520,5.6],[1560,2.4],[1600,4.1],[1640,0.8],[1680,3.1],[1720,4.5],[1760,1.4],[1800,2.6],[1840,5.0],[1880,3.3],[1920,5.8],[1960,0.2],[2000,2.0],[2040,3.8],[2080,5.8],[2120,1.1],[2160,2.8],[2200,4.3],[2240,0.6],[2280,3.5],[2320,1.9],[2360,4.7],[2400,6.35],[2440,2.3],[2480,-0.2],[2520,3.2],[2560,1.5],[2600,4.0],[2640,2.6],[2680,0.9],[2720,3.7],[2760,5.1],[2800,5.8],[2840,1.8],[2880,3.0],[2920,0.3],[2960,6.0],
[3000,2.2],[3040,4.4],[3080,1.0],[3120,3.4],[3160,-0.4],[3200,2.7],[3240,4.9],[3280,1.6],[3320,3.1],[3360,0.5],[3400,2.0],[3440,4.2],[3480,5.05],[3520,1.3],[3560,3.6],[3600,0.1],[3640,2.5],[3680,4.6],[3720,1.9],[3760,-1.07],[3800,3.0],[3840,0.7],[3880,2.3],[3920,4.0],[3960,1.4],[4000,3.3],[4040,-0.3],[4080,2.6],[4120,5.1],[4160,1.1],[4200,5.96],[4240,2.9],[4280,0.4],[4320,3.8],[4360,1.7],[4400,-1.74],[4440,2.4],[4480,4.3],[4520,0.9],[4560,3.1],[4600,1.5],[4640,-0.6],[4680,2.8],[4720,4.5],[4760,0.2],[4800,2.1],[4840,3.5],[4880,1.2],[4920,-0.2],[4960,2.7],
[5000,-1.9],[5040,1.6],[5080,3.3],[5120,0.5],[5160,2.4],[5200,5.2],[5240,-0.5],[5280,1.9],[5320,3.0],[5360,0.8],[5400,-1.36],[5440,2.2],[5480,4.0],[5520,1.2],[5560,-0.1],[5600,2.8],[5640,0.3],[5680,1.7],[5720,3.7],[5760,-0.8],[5800,2.5],[5840,1.0],[5880,4.3],[5920,0.6],[5960,2.0],[6000,-1.39],[6040,3.1],[6080,1.4],[6120,-0.3],[6160,2.6],[6200,0.9],[6240,4.5],[6280,5.35],[6320,1.8],[6360,-0.6],[6400,-1.77],[6440,2.3],[6480,0.4],[6520,5.05],[6560,3.4],[6600,1.1],[6640,-0.9],[6680,2.7],[6720,0.7],[6760,1.9],[6800,3.9],[6840,-0.2],[6880,1.5],[6920,2.9],[6960,0.2],
[7000,4.3],[7040,1.3],[7080,-0.7],[7120,2.4],[7160,0.6],[7200,3.5],[7240,1.7],[7280,-0.4],[7320,2.1],[7360,4.4],[7400,0.9],[7440,3.0],[7480,1.2],[7520,-1.0],[7560,2.6],[7600,0.4],[7640,3.8],[7680,1.6],[7720,0.0],[7760,2.2],[7800,4.6],[7840,1.0],[7880,2.9],[7920,-0.5],[7960,5.1],[8000,1.8],[8040,3.3],[8080,0.5],[8120,2.5],[8160,4.0],[8200,1.4],[8240,-0.2],[8280,2.0],[8320,3.6],[8360,0.8],[8400,4.8],[8440,1.9],[8480,2.8],[8520,0.3],[8560,3.9],[8600,1.3],[8640,4.5],[8680,2.4],[8720,0.7],[8760,3.2],[8800,1.6],[8840,4.1],[8880,-0.3],[8920,2.7],[8960,3.6],
[9000,1.1],[9030,3.4],[9060,2.2],[9090,4.4],[9120,0.6],[9150,-1.83],[9180,2.9],[9210,1.6],[9240,3.8],[9270,2.5],[9300,0.8],[9330,4.6],[9360,3.1],[9390,1.9],[9420,2.7],[9450,4.0],[9480,1.3],[9510,3.5],[9540,5.0],[9570,2.3],[9600,3.0],[9630,1.7],[9660,4.3],[9690,0.7],[9720,3.7],[9750,2.6],[9780,5.2],[9810,1.8],[9840,3.3],[9870,4.7],[9900,2.1],[9930,3.9],[9960,2.9],[9990,5.4],[10020,1.4],[10050,4.1],[10080,3.0],[10110,5.7],[10140,2.4],[10170,4.5],[10200,3.5],[10230,1.05],[10260,4.9],[10290,2.8],[10320,4.2],[10350,5.3],[10380,3.3],[10410,4.6],[10440,2.0],[10470,5.0],[10500,3.8],[10530,4.4],[10560,5.6],[10590,3.1],[10620,4.8],[10650,2.5],[10680,5.2],[10710,4.0],[10740,5.8],[10770,3.6],[10800,4.7],[10830,5.4],[10860,3.9],[10890,5.0],[10920,4.3],[10950,6.0],[10980,4.6],
[11000,5.1],[11080,3.9],[11160,5.7],[11240,4.5],[11320,6.1],[11400,4.9],[11480,3.6],[11560,5.4],[11640,4.2],[11720,5.9],[11800,4.7],[11880,5.2],[11960,3.8],[12040,5.6],[12120,4.4],[12200,6.0],[12280,5.0],[12360,4.1],[12440,5.5],[12520,4.8],[12600,3.5],[12680,5.3],[12760,4.6],[12840,3.1],[12920,5.8],[13000,4.9],[13080,5.4],[13160,4.3],[13240,6.1],[13320,5.1],[13400,3.3],[13480,5.6],[13560,4.7],[13640,5.9],[13720,5.2],[13800,3.8],[13880,5.5],[13960,4.5],[14040,3.6],[14120,5.8],[14200,5.0],[14280,4.4],[14360,6.0],[14440,5.3],[14520,4.8],[14600,5.7],[14680,4.0],[14760,5.4],[14840,6.1],[14920,4.9],
[15000,5.6],[15080,4.6],[15160,5.9],[15240,5.2],[15320,4.4],[15400,5.7],[15480,5.0],[15560,6.1],[15640,4.7],[15720,5.5],[15800,5.9],[15880,4.9],[15960,5.3],[16040,6.0],[16120,4.6],[16200,5.6],[16280,5.1],[16360,5.8],[16440,4.3],[16520,5.4],[16600,6.1],[16680,5.0],[16760,5.7],[16840,4.8],[16920,5.5],[17000,6.0],[17080,5.2],[17160,4.9],[17240,5.8],[17320,5.4],[17400,6.2],[17480,5.0],[17560,5.6],[17640,4.8],[17720,5.9],[17800,5.3],[17880,4.7],[17960,5.7],[18040,5.1],[18120,6.0],[18200,5.5],[18280,4.9],[18360,5.8],[18440,5.3],[18520,5.6],[18600,5.0],[18680,6.1],[18760,5.4],[18840,5.8],[18920,5.1],[19000,5.6],[19080,5.3],[19160,5.9],[19240,5.0],[19320,5.7],[19400,5.4],[19480,5.8],[19560,5.2],[19640,4.7],[19720,5.6],[19800,5.9],[19880,5.3],[19960,5.5],
[20040,5.7],[20120,5.2],[20200,5.5],[20280,4.9],[20360,5.8],[20440,5.3],[20520,5.6],[20600,5.0],[20680,5.4],[20760,5.7],[20840,5.1],[20920,5.5],[21000,4.9],[21080,5.6],[21160,5.3],[21240,5.8],[21320,5.2],[21400,5.5],[21480,5.0],[21560,5.4],[21640,5.7],[21720,5.2],[21800,5.5],[21880,4.95],[21960,5.6],[22040,5.3],[22120,5.5],[22200,5.1],[22280,5.7],[22360,5.3],[22440,5.0],[22520,5.5],[22600,5.2],[22680,5.6],[22760,5.3],[22840,5.0],[22920,5.4],[23000,5.6],[23080,5.2],[23160,4.75],[23240,5.5],[23320,5.3],[23400,5.1],[23480,5.6],[23560,5.3],[23640,5.0],[23720,5.5],[23800,5.2],[23880,5.4],[23960,5.6],[24040,5.1],[24120,5.4],[24200,5.3],[24280,4.9],[24360,5.5],[24440,5.2],[24520,5.4],[24600,5.0],[24680,5.5],[24760,5.3],[24840,5.1],[24920,5.4],[25000,5.2],[25080,5.5],[25160,5.3],[25240,5.0],[25320,5.4],[25400,5.2],[25480,5.45],[25560,5.1],[25640,5.35],[25720,5.2],[25800,5.4],[25880,5.0],[25960,5.3],[26040,5.45],[26120,5.15],[26200,5.35],[26260,5.25],
[10,5.2],[40,3.1],[60,4.6],[90,2.4],[110,5.5],[140,3.8],[160,6.2],[190,4.2],[210,2.8],[240,5.7],[260,3.5],[290,4.9],[310,2.2],[340,4.4],[360,3.0],[390,5.3],[410,2.7],[440,4.6],[460,3.7],[490,5.0],[510,3.2],[540,4.3],[560,2.1],[590,3.9],[610,5.4],[640,2.9],[660,4.5],[690,3.4],[710,5.1],[740,2.4],[760,4.0],[790,3.0],[810,1.4],[840,4.6],[860,3.1],[890,5.1],[910,2.7],[940,3.9],[960,1.8],[990,4.4],
[1020,3.6],[1060,2.2],[1100,4.0],[1140,2.7],[1180,4.4],[1220,3.0],[1260,4.9],[1300,2.4],[1340,3.7],[1380,1.9],[1420,4.2],[1460,2.8],[1500,3.8],[1540,1.5],[1580,4.3],[1620,2.9],[1660,3.6],[1700,2.1],[1740,4.9],[1780,3.4],[1820,1.8],[1860,4.0],[1900,2.5],[1940,3.2],[1980,4.5],[2020,1.4],[2060,3.1],[2100,2.4],[2140,4.1],[2180,1.7],[2220,3.3],[2260,2.0],[2300,4.5],[2340,2.9],[2380,1.2],[2420,3.5],[2460,2.4],[2500,4.1],[2540,0.9],[2580,2.9],[2620,3.8],[2660,1.6],[2700,2.5],[2740,4.3],[2780,1.4],[2820,3.3],[2860,2.2],[2900,4.4],[2940,1.5],[2980,3.6],
[3020,1.9],[3060,3.2],[3100,2.5],[3140,4.0],[3180,1.3],[3220,2.9],[3260,0.8],[3300,3.7],[3340,2.2],[3380,4.3],[3420,1.5],[3460,3.0],[3500,2.3],[3540,3.9],[3580,0.9],[3620,2.8],[3660,1.6],[3700,3.4],[3740,2.6],[3780,4.1],[3820,1.2],[3860,3.1],[3900,1.9],[3940,2.8],[3980,0.6],[4020,2.0],[4060,3.7],[4100,1.5],[4140,2.4],[4180,3.2],[4220,0.8],[4260,2.1],[4300,4.0],[4340,1.3],[4380,2.9],[4420,3.6],[4460,1.0],[4500,2.3],[4540,1.7],[4580,3.9],[4620,0.5],[4660,2.0],[4700,3.0],[4740,1.4],[4780,2.6],[4820,0.8],[4860,3.3],[4900,1.8],[4940,0.1],[4980,3.8],
[5020,2.6],[5060,0.9],[5100,2.0],[5140,3.6],[5180,1.3],[5220,0.3],[5260,2.8],[5300,1.6],[5340,-0.3],[5380,2.3],[5420,3.5],[5460,0.6],[5500,1.9],[5540,2.9],[5580,-0.6],[5620,1.4],[5660,2.4],[5700,0.8],[5740,3.1],[5780,1.5],[5820,-1.1],[5860,2.0],[5900,3.3],[5940,1.1],[5980,0.0],[6020,2.2],[6060,1.0],[6100,3.6],[6140,0.4],[6180,1.7],[6220,2.8],[6260,-0.5],[6300,1.3],[6340,2.5],[6380,0.8],[6420,3.2],[6460,1.6],[6500,-0.2],[6540,2.0],[6580,0.9],[6620,2.6],[6660,1.4],[6700,3.9],[6740,0.3],[6780,2.3],[6820,1.1],[6860,3.0],[6900,0.6],[6940,1.8],[6980,2.7],
[7020,0.8],[7060,2.9],[7100,1.5],[7140,3.3],[7180,-0.2],[7220,2.0],[7260,1.0],[7300,3.1],[7340,0.3],[7380,1.8],[7420,2.6],[7460,0.7],[7500,3.6],[7540,1.4],[7580,2.3],[7620,-0.6],[7660,1.9],[7700,3.0],[7740,1.2],[7780,2.7],[7820,0.5],[7860,3.4],[7900,1.7],[7940,2.4],[7980,0.9],[8020,3.7],[8060,1.3],[8100,2.9],[8140,0.2],[8180,2.1],[8220,3.5],[8260,1.6],[8300,2.6],[8340,-0.4],[8380,3.1],[8420,1.2],[8460,3.9],[8500,2.2],[8540,1.0],[8580,2.9],[8620,3.4],[8660,1.8],[8700,4.3],[8740,2.6],[8780,1.1],[8820,3.0],[8860,2.0],[8900,3.8],[8940,1.5],[8980,2.9],
[9015,2.6],[9045,4.1],[9075,1.5],[9105,3.0],[9135,2.0],[9165,3.7],[9195,1.2],[9225,2.8],[9255,4.2],[9285,1.9],[9315,3.3],[9345,2.4],[9375,4.0],[9405,1.6],[9435,3.2],[9465,2.3],[9495,3.9],[9525,2.8],[9555,4.4],[9585,1.9],[9615,3.6],[9645,2.9],[9675,4.6],[9705,2.5],[9735,3.4],[9765,4.1],[9795,3.0],[9825,4.8],[9855,2.6],[9885,3.8],[9915,4.4],[9945,3.3],[9975,4.9],[10005,3.6],[10035,2.7],[10065,4.6],[10095,3.9],[10125,5.1],[10155,3.3],[10185,4.2],[10215,5.0],[10245,3.8],[10275,4.5],[10305,5.5],[10335,3.6],[10365,4.8],[10395,5.2],[10425,4.1],[10455,5.6],[10485,4.5],[10515,5.1],[10545,4.0],[10575,5.4],[10605,4.6],[10635,5.9],[10665,4.3],[10695,5.5],[10725,4.9],[10755,5.3],[10785,6.0],[10815,4.4],[10845,5.7],[10875,5.1],[10905,5.6],[10935,4.8],[10965,5.4],[10995,5.9],
[11040,4.6],[11120,5.4],[11200,5.0],[11280,4.1],[11360,5.6],[11440,5.2],[11520,4.5],[11600,6.0],[11680,5.1],[11760,4.4],[11840,5.8],[11920,5.0],[12000,4.6],[12080,5.3],[12160,5.8],[12240,4.7],[12320,5.5],[12400,5.1],[12480,6.1],[12560,4.3],[12640,5.6],[12720,5.0],[12800,5.9],[12880,4.5],[12960,5.2],[13040,5.7],[13120,5.0],[13200,4.6],[13280,5.5],[13360,5.9],[13440,4.8],[13520,5.3],[13600,4.4],[13680,5.6],[13760,5.0],[13840,5.8],[13920,5.2],[14000,4.8],[14160,5.5],[14320,5.1],[14480,5.8],[14640,5.3],[14800,4.6],[14960,5.6],[15120,5.2],[15280,5.9],[15440,5.4],[15600,5.0],[15760,5.7],[15920,5.3],
[16080,5.5],[16240,5.9],[16400,5.2],[16560,5.7],[16720,5.4],[16880,5.1],[17040,5.6],[17200,5.9],[17360,5.3],[17520,5.7],[17680,5.4],[17840,5.1],[18000,5.6],[18160,5.3],[18320,5.7],[18480,5.4],[18640,5.2],[18800,5.6],[18960,5.5],[19120,5.2],[19280,5.6],[19440,5.3],[19600,5.7],[19760,5.4],[19920,5.2],[20160,5.4],[20400,5.6],[20640,5.3],[20880,5.7],[21120,5.4],[21360,5.2],[21600,5.5],[21840,5.3],[22080,5.6],[22320,5.4],[22560,5.3],[22800,5.5],[23040,5.3],[23280,5.4],[23520,5.2],[23760,5.4],[24000,5.3],[24240,5.5],[24480,5.3],[24720,5.2],[24960,5.4],[25200,5.3],[25440,5.2],[25680,5.4],[25920,5.25],[26160,5.3]
];

// (c) chamber drift velocity [t, v]
const cChamber = [
[3,0.93],[9,-1.73],[13,1.58],[17,-0.5],[23,-0.27],[29,-1.01],[33,-0.05],[39,0.86],[43,-0.41],[49,-0.5],[54,0.45],[59,1.81],[64,-0.16],[68,0.11],[73,0.72],[79,-0.46],[83,1.5],[89,0.65],[95,1.81],[99,-0.16],[104,0.18],[110,-0.14],[114,0.9],[120,0.38],[124,1.2],[130,1.2],[135,0.35],[140,1.02],[145,0.79],[150,0.31],[155,0.79],[160,1.06],[164,0.79],[170,0.41],[175,0.65],[180,0.65],[185,0.35],[191,0.22],[195,0.45],[201,0.93],[205,0.14],[210,0.08],[216,0.52],[220,0.38],[225,1.72],[229,0.41],[235,0.72],[240,0.14],[245,1.09],[250,0.72],[256,0.86],[260,0.82],[266,1.68],[271,0.59],[275,-0.3],[280,1.81],[285,0.9],[291,0.27],[296,0.18],[300,-0.71],[306,0.04],[311,-0.16],[315,0.35],[321,1.17],[325,0.72],[330,0.93],[336,0.86],[340,0.31],[345,-0.41],[350,0.31],[355,1.04],[360,0.27],[364,0.65],[370,0.25],[374,0.65],[380,0.82],[385,0.93],[389,1.17],[395,0.45],[400,0.04],
[405,0.99],[410,0.04],[414,0.65],[420,0.52],[426,-0.27],[432,0.31],[436,0.25],[441,0.9],[445,0.86],[451,0.45],[455,-0.1],[461,0.49],[466,1.09],[471,1.72],[476,0.45],[482,0.22],[486,0.65],[491,-0.03],[495,0.52],[501,0.72],[506,0.52],[511,0.72],[516,0.52],[521,0.59],[526,-0.27],[531,0.59],[535,1.13],[541,-0.1],[546,0.79],[551,0.59],[556,0.45],[561,-0.37],[566,0.52],[571,1.2],[575,1.06],[581,0.41],[586,-0.5],[591,0.72],[596,0.99],[600,0.31],[606,0.52],[611,-0.46],[616,0.45],[621,0.31],[627,1.09],[631,0.45],[637,0.72],[642,0.41],[646,0.04],[652,0.45],[656,0.86],[662,0.14],[667,0.86],[671,0.18],[677,0.79],[682,0.04],[686,0.45],[691,0.65],[696,0.18],[701,0.38],[706,0.59],[711,0.25],[716,1.09],[720,0.41],[726,-0.1],[731,-0.3],[735,0.45],[741,-0.19],[745,0.22],[751,-0.1],[756,0.38],[760,0.11],[766,0.45],[771,0.25],[776,0.99],[781,0.18],[787,0.38],[791,0.25],[796,0.08],
[800,0.59],[806,0.63],[811,-0.03],[815,0.04],[821,0.59],[825,0.25],[831,0.31],[836,0.11],[840,0.35],[846,0.25],[851,0.04],[856,0.18],[861,0.08],[865,0.31],[871,0.65],[876,0.72],[880,0.25],[886,0.04],[890,0.41],[895,0.14],[901,0.22],[905,0.82],[911,0.31],[916,-0.1],[920,0.22],[926,0.52],[930,0.25],[935,0.11],[941,0.35],[945,0.18],[951,0.22],[956,0.41],[960,0.14],[966,-0.1],[970,0.45],[975,0.63],[981,0.31],[985,0.11],[991,0.04],[995,0.25],[1000,0.0],[1006,0.14],[1010,0.08],[1015,0.25],[1021,0.31],[1025,0.0],[1030,-0.14],[1035,-0.19],[1040,0.25],[1045,0.04],[1050,0.18],[1055,-0.03],[1059,0.22],[1065,0.08],[1070,-0.1],[1074,0.25],[1080,0.0],[1085,-0.1],[1089,0.14],[1095,0.04],[1099,0.14],[1105,-0.03],[1110,0.08],[1114,0.0],
[1120,0.05],[1126,-0.04],[1132,0.08],[1138,0.02],[1144,-0.06],[1150,0.1],[1156,0.03],[1162,-0.02],[1168,0.06],[1174,0.0],[1180,0.07],[1186,-0.03],[1192,0.04],[1198,0.01],[1204,-0.04],[1210,0.05],[1216,0.0],[1222,0.03],[1228,-0.02],[1234,0.02],[1240,0.01],[1246,-0.03],[1252,0.02],[1258,0.0],[1264,0.02],[1270,-0.01],[1276,0.01],[1282,0.03],[1288,-0.02],[1294,0.01],[1300,0.0],[1306,0.02],[1312,-0.01],[1318,0.01],[1324,0.0],[1330,-0.01],[1336,0.01],[1342,0.0],[1348,0.01],[1354,-0.01],[1360,0.0],[1366,0.01],[1372,0.0],[1378,-0.01],[1384,0.0],[1390,0.01],[1396,0.0],[1402,0.0],[1408,0.0]
];

// (c) tube drift velocity [t, v]
const cTube = [
[3,0],[7,8.38],[13,10.98],[17,12.34],[22,12.14],[27,12.55],[32,12.96],[37,11.87],[43,12.53],[49,11.19],[52,10.12],[58,10.05],[65,10.57],[70,10.97],[74,10.57],[80,11.21],[84,10.78],[89,10.22],[95,9.32],[99,10.9],[104,10.05],[110,9.51],[115,10.74],[120,10.33],[124,9.4],[130,9.85],[135,10.19],[139,10.6],[145,10.98],[150,9.99],[154,10.4],[160,10.74],[164,10.33],[170,11.35],[175,10.53],[180,9.78],[186,9.78],[191,10.22],[196,10.22],[201,9.17],[207,10.22],[212,8.42],[218,8.9],[224,8.83],[228,8.35],[234,10.5],[239,10.26],[244,9.85],[250,8.94],[255,10.05],[260,9.85],[265,9.44],[269,9.4],[275,9.13],[280,10.26],[285,9.95],[290,9.78],[294,9.35],[300,8.8],
[305,9.03],[310,9.58],[316,9.71],[321,9.95],[326,8.65],[331,9.17],[336,10.05],[341,9.78],[346,9.58],[352,9.99],[357,9.26],[362,9.99],[366,10.12],[372,10.4],[378,8.62],[382,10.05],[388,9.85],[393,9.26],[398,9.26],[403,9.3],[409,10.8],[414,7.81],[420,10.08],[425,9.75],[430,9.99],[435,11.01],[440,8.92],[445,9.92],[450,8.9],[455,9.71],[461,8.69],[466,8.39],[471,8.99],[477,7.57],[482,8.49],[486,9.3],[491,10.33],[495,8.76],[501,9.65],[506,8.99],[511,8.26],[517,7.26],[522,9.07],[526,8.99],[532,9.1],[537,8.96],[542,9.58],[547,7.44],[553,8.49],[557,9.17],[562,8.96],[567,9.1],[573,8.12],[579,9.89],[583,10.67],[589,8.15],[594,10.4],[598,10.85],
[604,7.49],[608,9.3],[614,9.1],[619,8.56],[623,9.24],[629,8.83],[634,8.67],[639,8.69],[645,7.77],[650,9.65],[655,9.62],[660,8.69],[666,7.9],[670,8.39],[675,9.58],[680,8.96],[685,9.17],[690,8.01],[694,9.3],[700,8.86],[705,8.42],[711,8.15],[717,8.01],[722,8.49],[728,9.1],[735,10.6],[740,8.69],[745,9.51],[751,9.58],[757,9.26],[763,9.13],[768,9.26],[774,8.76],[779,7.36],[782,9.99],[788,9.17],[792,10.02],[798,8.76],[803,8.72],[808,7.71],[814,8.35],[819,7.22],[824,7.49],[829,8.58],[835,8.32],[840,7.34],[845,8.01],[849,9.26],[855,7.26],[860,8.92],[864,9.65],[870,10.82],[876,10.12],[880,9.92],[885,9.48],[890,8.01],[895,8.83],[900,10.49],
[905,9.99],[911,11.08],[916,11.35],[920,11.55],[934,11.69],[945,10.74],[957,10.8],[974,11.0],[985,10.98],[1002,10.4],[1008,10.16],[1020,11.3],[1030,11.6],[1040,11.5],[1050,11.9],[1060,12.1],[1070,11.8],[1080,12.3],[1090,12.5],[1100,12.2],[1110,12.7],[1120,12.9],[1130,12.6],[1140,13.1],[1150,13.0],[1160,13.3],[1170,13.2],[1180,13.5],[1190,13.4],[1200,13.6],[1210,13.5],[1220,13.65],
[1228,13.95],[1234,13.8],[1240,13.72],[1246,13.88],[1252,13.76],[1258,14.0],[1264,13.82],[1270,13.74],[1276,13.9],[1282,13.78],[1288,13.85],[1294,13.95],[1300,13.8],[1306,13.87],[1312,14.02],[1318,13.83],[1324,13.9],[1330,14.05],[1336,13.86],[1342,13.92],[1348,13.82],[1354,13.88],[1360,13.8],[1366,13.85],[1372,13.82],[1378,13.87],[1384,13.84],[1390,13.88],[1396,13.85],[1402,13.86],[1408,13.85]
];

// (d) chamber drift velocity [t, v]
const dChamber = [
[0,0.6],[15,-0.4],[30,1.1],[45,0.0],[60,-1.1],[75,0.3],[90,-0.2],[105,0.8],[120,-1.2],[135,0.2],[150,-0.6],[165,0.5],[180,1.58],[195,-0.1],[210,0.4],[225,-0.5],[240,1.35],[255,0.1],[270,-1.2],[285,0.6],[300,-0.3],[315,1.66],[330,0.2],[345,1.7],[360,-0.7],[375,0.35],[390,-0.15],[405,1.1],[420,-1.4],[435,1.66],[450,0.3],[465,-0.45],[480,0.75],[495,-1.2],[510,0.15],[525,0.5],[540,-0.35],[555,0.9],[570,0.0],[585,-0.6],[600,1.35],[615,0.25],[630,-0.2],[645,0.55],[660,-0.8],[675,0.4],[690,0.05],[705,-0.4],[720,1.4],[735,0.2],[750,-0.25],[765,0.65],[780,-0.55],[795,0.3],[810,0.9],[825,-0.1],[840,0.45],[855,-0.7],[870,0.15],[885,0.6],[900,-0.35],[915,1.0],[930,0.1],[945,-0.5],[960,0.4],[975,-0.9],[990,0.25],
[1005,-1.2],[1020,0.7],[1035,1.66],[1050,-0.2],[1065,0.35],[1080,-0.6],[1095,0.5],[1110,0.0],[1125,0.8],[1140,-0.3],[1155,0.2],[1170,-0.75],[1185,0.55],[1200,0.1],[1215,-0.4],[1230,0.65],[1245,0.25],[1260,-0.15],[1275,0.45],[1290,-0.9],[1305,1.4],[1320,0.3],[1335,-0.5],[1350,0.15],[1365,0.6],[1380,-0.25],[1395,-0.8],[1410,0.4],[1425,0.05],[1440,0.7],[1455,-0.45],[1470,0.25],[1485,0.9],[1500,-0.1],[1515,0.5],[1530,-0.6],[1545,0.2],[1560,0.75],[1575,-0.3],[1590,0.35],[1605,0.0],[1620,-0.5],[1635,0.6],[1650,0.15],[1665,-0.2],[1680,0.85],[1695,-0.65],[1710,-1.0],[1725,0.3],[1740,0.55],[1755,-0.35],[1770,0.1],[1785,-0.64],[1800,0.45],[1815,-1.0],[1830,0.2],[1845,0.6],[1860,-0.25],[1875,0.35],[1890,-0.45],[1905,0.7],[1920,0.05],[1935,-0.3],[1950,0.5],[1965,-0.15],[1980,0.25],[1995,-0.55],
[2010,0.4],[2025,-0.3],[2040,0.6],[2055,0.0],[2070,-0.5],[2085,0.3],[2100,-0.2],[2115,0.55],[2130,0.1],[2145,-0.4],[2160,0.35],[2175,-0.1],[2190,-0.67],[2205,0.45],[2220,0.05],[2235,-0.3],[2250,0.25],[2265,-0.45],[2280,0.5],[2295,0.0],[2310,-0.25],[2325,0.3],[2340,-0.15],[2355,0.45],[2370,0.1],[2385,-0.35],[2400,0.2],[2415,0.55],[2430,-0.2],[2445,0.1],[2460,-0.3],[2475,0.35],[2490,0.0],[2505,-0.25],[2520,0.2],[2535,-0.1],[2550,0.3],[2565,-0.2],[2580,0.15],[2595,-0.3],[2610,0.25],[2625,0.05],[2640,-0.15],[2655,0.3],[2670,-0.2],[2685,0.1],[2700,-0.25],[2715,0.2],[2730,0.0],[2745,-0.1],[2760,0.15],[2775,-0.15],[2790,0.1],[2805,-0.05],[2820,0.12],[2835,-0.1],[2850,0.08],[2865,-0.06],[2880,0.05],[2895,-0.04],
[2920,0.04],[2945,-0.03],[2970,0.05],[2995,-0.02],[3020,0.03],[3045,-0.04],[3070,0.02],[3095,-0.02],[3120,0.03],[3145,-0.03],[3170,0.02],[3195,-0.01],[3220,0.02],[3245,-0.02],[3270,0.01],[3295,-0.02],[3320,0.02],[3345,-0.01],[3370,0.01],[3395,-0.01],[3420,0.01],[3445,-0.01],[3470,0.01],[3495,0.0],[3520,0.01],[3545,-0.01],[3570,0.0],[3595,0.01],[3620,-0.01],[3645,0.0],[3670,0.01],[3695,0.0],[3720,-0.01],[3745,0.0],[3770,0.01],[3795,0.0],[3820,0.0],[3845,0.0],
[8,-0.1],[22,0.5],[38,-0.7],[52,0.3],[68,0.9],[82,-0.3],[98,0.2],[112,-0.8],[128,0.6],[142,0.0],[158,-0.4],[172,0.8],[188,-0.2],[202,0.4],[218,-0.9],[232,0.1],[248,0.7],[262,-0.4],[278,0.3],[292,-0.1],[308,0.5],[322,-0.6],[338,0.0],[352,0.6],[368,-0.3],[382,0.2],[398,-0.6],[412,0.5],[428,0.1],[442,-0.3],[458,0.7],[472,-0.1],[488,0.3],[502,-0.5],[518,0.6],[532,0.1],[548,-0.2],[562,0.4],[578,-0.4],[592,0.2],[608,0.7],[622,-0.3],[638,0.1],[652,0.5],[668,-0.2],[682,0.3],[698,-0.6],[712,0.2],[728,0.6],[742,-0.1],[758,0.3],[772,-0.4],[788,0.1],[802,0.5],[818,-0.3],[832,0.2],[848,-0.1],[862,0.4],[878,-0.5],[892,0.2],[908,0.0],[922,0.5],[938,-0.2],[952,0.3],[968,-0.4],[982,0.1],[998,0.6],
[1012,-0.3],[1042,0.3],[1072,-0.2],[1102,0.4],[1132,-0.5],[1162,0.1],[1192,0.5],[1222,-0.2],[1252,0.3],[1282,-0.4],[1312,0.2],[1342,0.6],[1372,-0.1],[1402,0.3],[1432,-0.5],[1462,0.1],[1492,0.4],[1522,-0.2],[1552,0.3],[1582,-0.4],[1612,0.6],[1642,0.0],[1672,-0.3],[1702,0.4],[1732,-0.1],[1762,0.3],[1792,0.6],[1822,-0.3],[1852,0.1],[1882,0.4],[1912,-0.2],[1942,0.3],[1972,-0.4],[2002,0.1],[2032,0.3],[2062,-0.2],[2092,0.2],[2122,-0.3],[2152,0.4],[2182,0.0],[2212,-0.2],[2242,0.3],[2272,-0.1],[2302,0.2],[2332,-0.3],[2362,0.3],[2392,-0.1],[2422,0.2],[2452,-0.2],[2482,0.2],[2512,0.05],[2542,-0.15],[2572,0.2],[2602,-0.1],[2632,0.15],[2662,-0.1],[2692,0.1],[2722,-0.05],[2752,0.08],[2782,-0.06],[2812,0.05],[2842,-0.04],[2872,0.03],[2902,-0.02],
[2932,0.02],[2957,-0.02],[2982,0.03],[3007,-0.01],[3032,0.02],[3057,-0.02],[3082,0.01],[3107,-0.01],[3132,0.02],[3157,-0.01],[3182,0.01],[3207,-0.01],[3232,0.01],[3257,0.0],[3282,0.01],[3307,-0.01],[3332,0.0],[3357,0.01],[3382,0.0],[3407,-0.01],[3432,0.0],[3457,0.01],[3482,0.0],[3507,0.0],[3532,0.0],[3557,0.01],[3582,0.0],[3607,0.0],[3632,0.0],[3657,0.0],[3682,0.0],[3707,0.0],[3732,0.0],[3757,0.0],[3782,0.0],[3807,0.0],[3832,0.0]
];

// (d) tube drift velocity [t, v]
const dTube = [
[0,0.43],[12,8.63],[18,9.94],[21,11.42],[30,10.93],[42,13.69],[52,10.47],[55,12.16],[67,11.36],[73,12.9],[82,11.39],[98,14.23],[104,12.54],[113,13.54],[119,11.85],[128,13.88],[134,14.64],[144,13.08],[150,14.08],[159,13.77],[165,12.47],[168,10.55],[174,12.77],[190,14.08],[196,13.11],[205,12.5],[214,10.09],[220,11.62],[226,9.48],[236,11.93],[245,12.39],[251,11.47],[257,10.93],[266,13.66],[275,11.24],[282,10.63],[288,10.14],[297,12.16],[306,11.55],[312,10.47],[318,11.39],[337,10.93],[343,8.56],[349,12.47],[358,12.7],[367,11.88],[373,9.55],[380,9.94],[389,12.24],[398,11.39],
[404,10.86],[410,12.01],[419,10.4],[429,11.88],[435,13.2],[441,9.94],[450,11.39],[459,11.32],[465,11.01],[472,10.7],[481,12.62],[490,12.01],[496,11.42],[502,10.63],[511,10.9],[521,10.17],[527,10.55],[536,10.32],[542,9.83],[551,9.09],[557,7.63],[567,9.58],[573,8.97],[582,10.9],[588,7.02],[597,10.63],[603,9.86],[613,9.32],[619,12.54],[628,10.09],[634,11.39],[643,9.09],[649,10.86],[658,12.08],[665,9.74],[674,10.78],[680,11.62],[686,12.47],[695,8.94],[704,10.32],[711,12.8],[717,11.36],[726,11.88],[735,10.5],[741,10.78],[747,11.27],[757,10.32],[766,10.81],[772,9.86],[778,12.47],[787,11.24],[796,10.2],
[803,12.13],[809,10.47],[818,12.54],[827,10.81],[833,10.4],[839,8.17],[849,10.63],[858,9.09],[864,11.67],[870,10.66],[879,9.17],[888,7.59],[895,10.01],[901,9.32],[910,6.05],[919,9.48],[925,8.63],[934,9.89],[941,11.24],[950,8.78],[956,5.95],[965,12.08],[971,11.55],[980,10.47],[986,8.94],[993,11.88],[1002,9.37],[1011,11.32],[1017,8.4],[1023,10.01],[1033,10.75],[1042,12.13],[1048,11.47],[1054,9.17],[1063,11.01],[1072,9.78],[1078,8.25],[1085,12.59],[1094,10.01],[1103,7.41],[1109,11.21],[1115,9.28],[1124,10.86],[1134,9.94],[1140,10.47],[1146,11.21],[1155,8.32],[1164,9.83],[1170,11.09],[1177,8.63],[1186,7.71],[1195,9.17],
[1201,10.5],[1207,7.56],[1216,10.81],[1225,9.02],[1232,10.01],[1238,11.39],[1247,9.58],[1256,10.78],[1262,10.17],[1268,8.71],[1278,9.71],[1287,10.63],[1293,7.44],[1299,9.4],[1308,10.01],[1317,9.58],[1324,9.12],[1330,8.4],[1339,9.98],[1348,10.78],[1354,8.25],[1360,9.28],[1370,9.52],[1379,9.94],[1385,9.02],[1391,9.37],[1400,8.63],[1409,8.2],[1416,9.25],[1422,8.79],[1431,10.01],[1440,6.87],[1446,9.09],[1452,9.32],[1462,10.09],[1471,7.94],[1477,9.83],[1483,8.63],[1492,8.94],[1501,9.09],[1508,7.02],[1514,9.78],[1523,8.32],[1532,9.58],[1538,8.75],[1544,9.83],[1554,9.17],[1563,12.13],[1569,8.75],[1575,10.66],[1584,8.94],[1593,8.56],
[1600,8.82],[1606,8.32],[1615,9.74],[1624,8.94],[1630,8.25],[1636,12.31],[1646,11.42],[1655,8.71],[1661,11.85],[1667,10.44],[1676,9.71],[1685,8.97],[1692,7.13],[1698,9.37],[1707,9.12],[1716,9.17],[1722,10.55],[1728,9.52],[1737,11.27],[1747,9.74],[1753,9.55],[1759,7.83],[1768,8.56],[1777,8.71],[1783,8.17],[1789,8.05],[1799,7.74],[1808,9.94],[1814,9.55],[1820,8.79],[1829,7.56],[1838,8.29],[1845,8.97],[1851,9.37],[1860,9.09],[1869,9.94],[1875,7.41],[1881,8.14],[1891,9.83],[1900,9.32],[1906,10.01],[1912,8.63],[1921,8.56],[1930,9.78],[1937,8.48],[1943,7.94],[1952,7.25],[1961,7.63],[1967,8.97],[1973,8.86],[1983,10.86],[1992,11.06],[1998,8.45],
[2004,9.58],[2013,9.06],[2013,11.01],[2022,11.82],[2022,7.25],[2029,8.17],[2029,10.81],[2035,9.22],[2035,11.06],[2044,6.72],[2053,8.02],[2059,8.63],[2065,9.4],[2075,9.09],[2084,6.79],[2090,7.9],[2105,9.4],[2121,8.79],[2127,7.68],[2136,5.07],[2145,9.4],[2147,7.41],[2157,7.48],[2167,9.74],[2176,8.17],[2188,6.33],[2197,7.41],[2206,7.56],[2213,6.91],[2219,8.33],[2228,10.24],[2237,9.89],[2243,9.09],[2249,8.05],[2259,8.36],[2268,9.06],[2274,6.98],[2280,6.56],[2289,7.94],[2298,8.75],[2305,7.64],[2311,8.05],[2320,8.29],[2329,5.6],[2335,6.41],[2341,8.86],[2350,8.02],[2360,8.97],[2366,8.29],[2372,9.83],[2381,8.94],[2390,7.9],[2396,8.48],
[2403,9.06],[2412,9.74],[2421,6.82],[2427,8.82],[2433,9.37],[2442,10.14],[2452,9.4],[2458,8.05],[2464,8.82],[2473,8.02],[2482,7.99],[2488,8.36],[2495,11.24],[2504,9.98],[2513,10.63],[2519,10.35],[2525,10.17],[2534,10.78],[2544,9.78],[2550,9.4],[2556,10.14],[2565,10.47],[2574,11.55],[2580,9.28],[2586,10.04],[2596,9.55],[2605,10.4],[2611,10.9],[2617,9.78],[2626,10.63],[2636,9.48],[2642,9.71],[2648,11.27],[2657,10.2],[2666,10.78],[2672,9.94],[2678,10.04],[2688,9.32],[2697,9.55],
[2703,10.17],[2709,11.06],[2718,11.16],[2727,10.47],[2734,10.7],[2740,10.2],[2749,10.96],[2758,11.52],[2764,10.24],[2770,10.6],[2780,10.81],[2789,8.94],[2795,9.78],[2801,10.17],[2810,10.7],[2819,11.42],[2826,10.35],[2832,10.81],[2841,11.09],[2850,11.27],[2856,10.47],[2862,10.66],[2872,10.93],[2881,11.62],[2887,10.9],[2893,11.36],[2902,10.78],[2911,11.42],[2918,11.21],[2924,10.9],[2933,11.58],[2942,11.78],[2948,11.21],[2954,11.39],[2963,11.01],[2973,11.36],[2979,10.17],[2985,10.78],[2994,11.16],
[3003,11.78],[3009,11.09],[3016,11.52],[3025,11.67],[3034,11.32],[3040,12.01],[3046,11.21],[3055,11.55],[3065,10.96],[3071,11.39],[3077,11.82],[3086,11.16],[3095,10.5],[3101,11.55],[3108,10.9],[3117,11.39],[3126,11.21],[3132,11.7],[3138,11.47],[3147,11.58],[3157,11.06],[3163,11.42],[3169,11.21],[3178,11.67],[3187,11.32],[3193,11.78],[3200,11.47],[3209,10.96],[3218,11.58],[3224,11.39],[3230,11.67],[3239,11.52],[3249,11.16],[3255,11.73],[3261,11.58],[3270,11.36],[3279,11.7],[3285,11.55],[3292,11.82],
[3301,11.62],[3310,11.42],[3316,11.7],[3322,11.85],[3331,11.62],[3340,11.32],[3347,11.73],[3353,11.58],[3362,11.88],[3371,11.67],[3377,11.52],[3383,11.78],[3392,11.67],[3402,11.93],[3408,11.73],[3414,11.58],[3423,11.82],[3432,11.67],[3439,11.78],[3445,11.61],[3454,11.85],[3463,11.7],[3469,11.62],[3475,11.78],[3485,11.67],[3494,11.73],[3500,11.85],[3506,11.67],
[3515,11.75],[3525,11.62],[3535,11.8],[3545,11.68],[3555,11.74],[3565,11.6],[3575,11.78],[3585,11.66],[3595,11.72],[3605,11.64],[3615,11.76],[3625,11.68],[3635,11.73],[3645,11.62],[3655,11.74],[3665,11.67],[3675,11.71],[3685,11.65],[3695,11.73],[3705,11.68],[3715,11.72],[3725,11.64],[3735,11.7],[3745,11.67],[3755,11.72],[3765,11.66],[3775,11.7],[3785,11.68],[3795,11.71],[3805,11.66],[3815,11.7],[3825,11.68],[3835,11.7],[3845,11.69]
];

// ---------------- LAYOUT / STYLE ----------------
const FONT = '"Liberation Sans", Arial, Helvetica, sans-serif';
const BLUE = '#0000ff', MAG = '#ff00ff', AXIS = '#262626';
const ML = 70, MT = 20, MR = 35, MB = 80;
const CROSS_R = 3.3, CROSS_W = 1.4, DOT_R = 2.6;

const panels = [
  {tag: panelTags[0], chamber: aChamber, tube: aTube, xr: [0, 14000], yr: [-2, 7], xt: xTicksA, yt: yTicksA, xdiv: 1,
   box: {l: 69, t: 10, r: 503, b: 401}, legend: {x: 224, y: 19, w: 271, h: 62},
   tagPos: {x: 80, y: 34}, xl: {x: 286, y: 447}, yl: {x: 22, y: 207}},
  {tag: panelTags[1], chamber: bChamber, tube: bTube, xr: [0, 30000], yr: [-2, 8], xt: xTicksB, yt: yTicksB, xdiv: 10000,
   box: {l: 697, t: 10, r: 1148, b: 394}, legend: {x: 869, y: 18, w: 274, h: 63},
   tagPos: {x: 713, y: 27}, xl: {x: 922, y: 450}, yl: {x: 651, y: 204}, expo: {x: 1135, y: 464}},
  {tag: panelTags[2], chamber: cChamber, tube: cTube, xr: [0, 1500], yr: [-2, 14], xt: xTicksC, yt: yTicksC, xdiv: 1,
   box: {l: 73, t: 487, r: 510, b: 878}, legend: {x: 231, y: 495, w: 271, h: 63},
   tagPos: {x: 82, y: 502}, xl: {x: 291, y: 930}, yl: {x: 23, y: 683}},
  {tag: panelTags[3], chamber: dChamber, tube: dTube, xr: [0, 4000], yr: [-2, 16], xt: xTicksD, yt: yTicksD, xdiv: 1,
   box: {l: 703, t: 488, r: 1138, b: 877}, legend: {x: 861, y: 494, w: 272, h: 64},
   tagPos: {x: 713, y: 505}, xl: {x: 920, y: 930}, yl: {x: 651, y: 683}}
];

function framePlugin(P, ox, oy) {
  return {
    id: 'frame',
    afterDatasetsDraw(chart) {
      const ctx = chart.ctx, ca = chart.chartArea, xs = chart.scales.x, ys = chart.scales.y;
      ctx.save();
      const L = Math.round(ca.left) + 0.5, T = Math.round(ca.top) + 0.5;
      const R = Math.round(ca.right) - 0.5, B = Math.round(ca.bottom) - 0.5;
      ctx.strokeStyle = AXIS; ctx.lineWidth = 1;
      const TL = 5;
      ctx.beginPath();
      xs.ticks.forEach(t => {
        const px = Math.round(xs.getPixelForValue(t.value)) + 0.5;
        ctx.moveTo(px, B); ctx.lineTo(px, B - TL);
        ctx.moveTo(px, T); ctx.lineTo(px, T + TL);
      });
      ys.ticks.forEach(t => {
        const py = Math.round(ys.getPixelForValue(t.value)) + 0.5;
        ctx.moveTo(L, py); ctx.lineTo(L + TL, py);
        ctx.moveTo(R, py); ctx.lineTo(R - TL, py);
      });
      ctx.stroke();
      ctx.strokeRect(L, T, R - L, B - T);

      // legend
      const lg = P.legend;
      const lx = lg.x - ox + 0.5, ly = lg.y - oy + 0.5;
      ctx.fillStyle = '#fff'; ctx.fillRect(lx, ly, lg.w, lg.h);
      ctx.strokeStyle = AXIS; ctx.lineWidth = 1; ctx.strokeRect(lx, ly, lg.w, lg.h);
      const mx = lx + 14, e1 = ly + 17, e2 = ly + 47;
      ctx.strokeStyle = BLUE; ctx.lineWidth = CROSS_W;
      ctx.beginPath();
      ctx.moveTo(mx - CROSS_R, e1); ctx.lineTo(mx + CROSS_R, e1);
      ctx.moveTo(mx, e1 - CROSS_R); ctx.lineTo(mx, e1 + CROSS_R);
      ctx.stroke();
      ctx.fillStyle = MAG; ctx.beginPath(); ctx.arc(mx, e2, DOT_R, 0, Math.PI * 2); ctx.fill();
      ctx.fillStyle = '#000'; ctx.font = '24px ' + FONT;
      ctx.textBaseline = 'middle'; ctx.textAlign = 'left';
      ctx.fillText(legendLabels[0], lx + 28, e1 + 1);
      ctx.fillText(legendLabels[1], lx + 28, e2 + 1);

      // panel tag
      ctx.font = '23.5px ' + FONT;
      ctx.fillText(P.tag, P.tagPos.x - ox, P.tagPos.y - oy);

      // x title
      ctx.fillStyle = AXIS; ctx.textAlign = 'center';
      ctx.fillText(axisTitleX, P.xl.x - ox, P.xl.y - oy);

      // x exponent
      if (P.expo) {
        ctx.textAlign = 'right'; ctx.textBaseline = 'alphabetic';
        ctx.font = '23.5px ' + FONT;
        ctx.fillText(xExponentB, P.expo.x - ox, P.expo.y - oy);
        ctx.textAlign = 'left'; ctx.font = '17px ' + FONT;
        ctx.fillText(xExponentBPow, P.expo.x - ox + 1, P.expo.y - oy - 12);
      }

      // y title with subscript (rotated)
      ctx.save();
      ctx.translate(P.yl.x - ox, P.yl.y - oy);
      ctx.rotate(-Math.PI / 2);
      ctx.textAlign = 'left'; ctx.textBaseline = 'alphabetic';
      ctx.font = '23.5px ' + FONT;
      const wv = ctx.measureText(axisTitleY).width;
      ctx.font = '17.5px ' + FONT;
      const ws = ctx.measureText(axisTitleYSub).width;
      const x0 = -(wv + ws) / 2;
      ctx.font = '23.5px ' + FONT;
      ctx.fillText(axisTitleY, x0, 0);
      ctx.font = '17.5px ' + FONT;
      ctx.fillText(axisTitleYSub, x0 + wv, 12);
      ctx.restore();

      ctx.restore();
    }
  };
}

panels.forEach(P => {
  const ox = P.box.l - ML, oy = P.box.t - MT;
  const W = P.box.r - P.box.l + ML + MR, H = P.box.b - P.box.t + MT + MB;
  const cv = document.createElement('canvas');
  cv.width = W; cv.height = H;
  cv.style.left = ox + 'px'; cv.style.top = oy + 'px';
  cv.style.width = W + 'px'; cv.style.height = H + 'px';
  document.body.appendChild(cv);
  const tickFont = {family: FONT, size: 23.5};
  new Chart(cv, {
    type: 'scatter',
    data: {
      datasets: [
        {label: legendLabels[0], data: P.chamber.map(p => ({x: p[0], y: p[1]})),
         pointStyle: 'cross', pointRadius: CROSS_R, borderColor: BLUE, backgroundColor: BLUE, borderWidth: CROSS_W, order: 1},
        {label: legendLabels[1], data: P.tube.map(p => ({x: p[0], y: p[1]})),
         pointStyle: 'circle', pointRadius: DOT_R, borderColor: MAG, backgroundColor: MAG, borderWidth: 0, order: 0}
      ]
    },
    options: {
      responsive: false, animation: false, devicePixelRatio: 1, events: [],
      layout: {padding: {left: 0, top: MT, right: MR, bottom: 0}},
      plugins: {legend: {display: false}, tooltip: {enabled: false}},
      scales: {
        x: {
          type: 'linear', position: 'bottom', min: P.xr[0], max: P.xr[1],
          afterBuildTicks: s => { s.ticks = P.xt.map(v => ({value: v})); },
          afterFit: s => { s.height = MB; },
          grid: {display: false, drawTicks: false}, border: {display: false},
          ticks: {padding: 9.5, font: tickFont, color: AXIS, maxRotation: 0, minRotation: 0, autoSkip: false,
                  callback: v => String(v / P.xdiv)}
        },
        y: {
          type: 'linear', position: 'left', min: P.yr[0], max: P.yr[1],
          afterBuildTicks: s => { s.ticks = P.yt.map(v => ({value: v})); },
          afterFit: s => { s.width = ML; },
          grid: {display: false, drawTicks: false}, border: {display: false},
          ticks: {padding: 6.5, font: tickFont, color: AXIS, autoSkip: false, callback: v => String(v)}
        }
      }
    },
    plugins: [framePlugin(P, ox, oy)]
  });
});
</script>
</body></html>
